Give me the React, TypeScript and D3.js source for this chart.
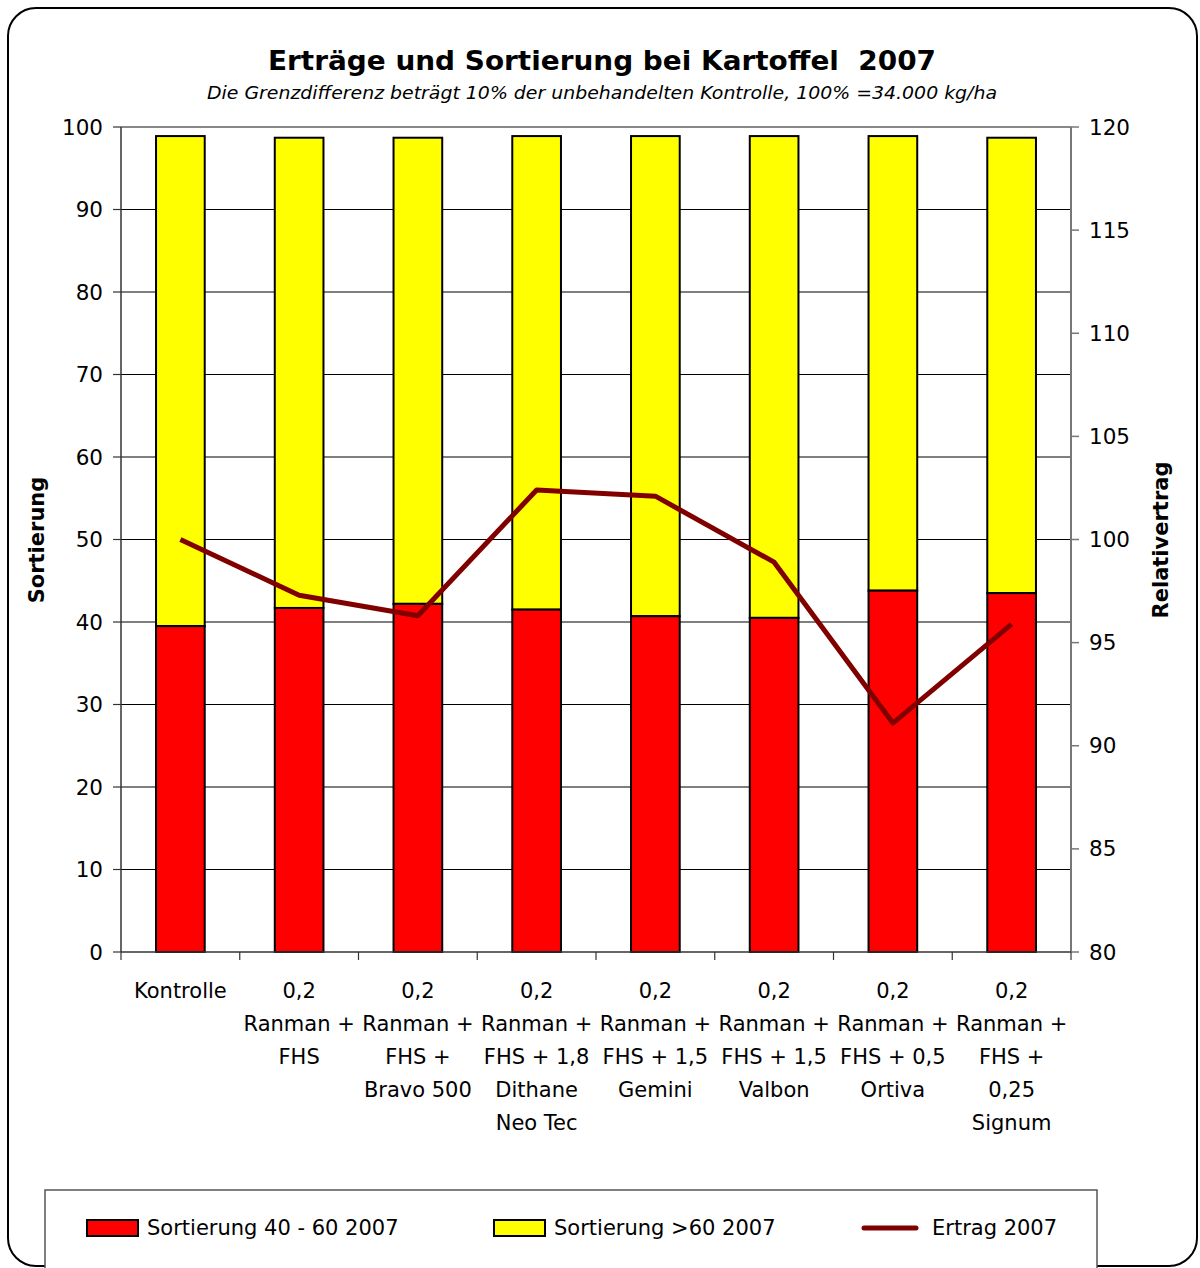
import React from "react";
import * as d3 from "d3";

const categories: string[][] = [
  ["Kontrolle"],
  ["0,2", "Ranman +", "FHS"],
  ["0,2", "Ranman +", "FHS +", "Bravo 500"],
  ["0,2", "Ranman +", "FHS + 1,8", "Dithane", "Neo Tec"],
  ["0,2", "Ranman +", "FHS + 1,5", "Gemini"],
  ["0,2", "Ranman +", "FHS + 1,5", "Valbon"],
  ["0,2", "Ranman +", "FHS + 0,5", "Ortiva"],
  ["0,2", "Ranman +", "FHS +", "0,25", "Signum"],
];
const sort4060: number[] = [39.5, 41.7, 42.2, 41.5, 40.7, 40.5, 43.8, 43.5];
const sortOver60: number[] = [59.4, 57.0, 56.5, 57.4, 58.2, 58.4, 55.1, 55.2];
const ertrag: number[] = [100, 97.3, 96.3, 102.4, 102.1, 98.9, 91.1, 95.9];
const leftTicks: number[] = [0, 10, 20, 30, 40, 50, 60, 70, 80, 90, 100];
const rightTicks: number[] = [80, 85, 90, 95, 100, 105, 110, 115, 120];
const seriesNames = ["Sortierung 40 - 60 2007", "Sortierung >60 2007", "Ertrag 2007"];

const FONT = "'DejaVu Sans', Verdana, sans-serif";

export default function App() {
  const W = 1200, H = 1268;
  const x0 = 121, x1 = 1071, yTop = 127, yBot = 952;
  const idx = categories.map((_, i) => i);
  const x = d3.scaleBand<number>().domain(idx).range([x0, x1]).paddingInner(0.59).paddingOuter(0.295);
  const xb = d3.scaleBand<number>().domain(idx).range([x0, x1]);
  const yL = d3.scaleLinear().domain([0, 100]).range([yBot, yTop]);
  const yR = d3.scaleLinear().domain([80, 120]).range([yBot, yTop]);
  const line = d3.line<number>().x((_, i) => (xb(i) as number) + xb.bandwidth() / 2).y((d) => yR(d));

  return (
    <svg width={W} height={H} style={{ position: "absolute", left: 0, top: 0, background: "#fff" }} fontFamily={FONT}>
      <rect x={8} y={8} width={1189} height={1258} rx={28} ry={28} fill="#fff" stroke="#000" strokeWidth={2} />
      <text x={602} y={70} textAnchor="middle" fontSize={27} fontWeight="bold" textLength={668} lengthAdjust="spacingAndGlyphs">{"Erträge und Sortierung bei Kartoffel\u00a0 2007"}</text>
      <text x={602} y={99} textAnchor="middle" fontSize={18} fontStyle="italic" textLength={790} lengthAdjust="spacingAndGlyphs">Die Grenzdifferenz beträgt 10% der unbehandelten Kontrolle, 100% =34.000 kg/ha</text>

      {/* gridlines */}
      {leftTicks.filter((t) => t > 0 && t < 100).map((t) => (
        <line key={"g" + t} x1={x0} x2={x1} y1={yL(t)} y2={yL(t)} stroke="#000" strokeWidth={1.2} />
      ))}
      <line x1={x0} x2={x1} y1={yTop} y2={yTop} stroke="#888" strokeWidth={2} />

      {/* bars */}
      {idx.map((i) => (
        <g key={"b" + i}>
          <rect x={x(i)} y={yL(sort4060[i] + sortOver60[i])} width={x.bandwidth()} height={yL(sort4060[i]) - yL(sort4060[i] + sortOver60[i])} fill="#FFFF00" stroke="#000" strokeWidth={2} />
          <rect x={x(i)} y={yL(sort4060[i])} width={x.bandwidth()} height={yL(0) - yL(sort4060[i])} fill="#FF0000" stroke="#000" strokeWidth={2} />
        </g>
      ))}

      {/* line */}
      <path d={line(ertrag) || ""} fill="none" stroke="#800000" strokeWidth={5} strokeLinejoin="round" />

      {/* axes */}
      <line x1={x0} x2={x0} y1={yTop} y2={yBot} stroke="#333" strokeWidth={1.5} />
      <line x1={x1} x2={x1} y1={yTop} y2={yBot} stroke="#777" strokeWidth={2} />
      <line x1={x0} x2={x1} y1={yBot} y2={yBot} stroke="#333" strokeWidth={1.5} />
      {leftTicks.map((t) => (
        <g key={"l" + t}>
          <line x1={x0 - 8} x2={x0} y1={yL(t)} y2={yL(t)} stroke="#333" strokeWidth={1.2} />
          <text x={103} y={yL(t)} dy="0.35em" textAnchor="end" fontSize={21.5}>{t}</text>
        </g>
      ))}
      {rightTicks.map((t) => (
        <g key={"r" + t}>
          <line x1={x1} x2={x1 + 8} y1={yR(t)} y2={yR(t)} stroke="#777" strokeWidth={1.5} />
          <text x={1089} y={yR(t)} dy="0.35em" textAnchor="start" fontSize={21.5}>{t}</text>
        </g>
      ))}
      {idx.concat([categories.length]).map((i) => {
        const xx = i < categories.length ? (xb(i) as number) : x1;
        return <line key={"xt" + i} x1={xx} x2={xx} y1={yBot} y2={yBot + 8} stroke="#333" strokeWidth={1.2} />;
      })}
      {categories.map((lines, i) => (
        <text key={"c" + i} textAnchor="middle" fontSize={21}>
          {lines.map((s, j) => (
            <tspan key={j} x={(xb(i) as number) + xb.bandwidth() / 2} y={998 + j * 33}>{s}</tspan>
          ))}
        </text>
      ))}

      <text transform="translate(44,540) rotate(-90)" textAnchor="middle" fontSize={21} fontWeight="bold">Sortierung</text>
      <text transform="translate(1168,540) rotate(-90)" textAnchor="middle" fontSize={21} fontWeight="bold">Relativertrag</text>

      {/* legend */}
      <rect x={45} y={1190} width={1052} height={80} fill="#fff" stroke="#555" strokeWidth={1.5} />
      <rect x={87} y={1220} width={51} height={16} fill="#FF0000" stroke="#000" strokeWidth={2} />
      <text x={147} y={1228} dy="0.35em" fontSize={21}>{seriesNames[0]}</text>
      <rect x={494} y={1220} width={51} height={16} fill="#FFFF00" stroke="#000" strokeWidth={2} />
      <text x={554} y={1228} dy="0.35em" fontSize={21}>{seriesNames[1]}</text>
      <line x1={864} x2={916} y1={1228} y2={1228} stroke="#800000" strokeWidth={5} strokeLinecap="round" />
      <text x={932} y={1228} dy="0.35em" fontSize={21}>{seriesNames[2]}</text>
    </svg>
  );
}
